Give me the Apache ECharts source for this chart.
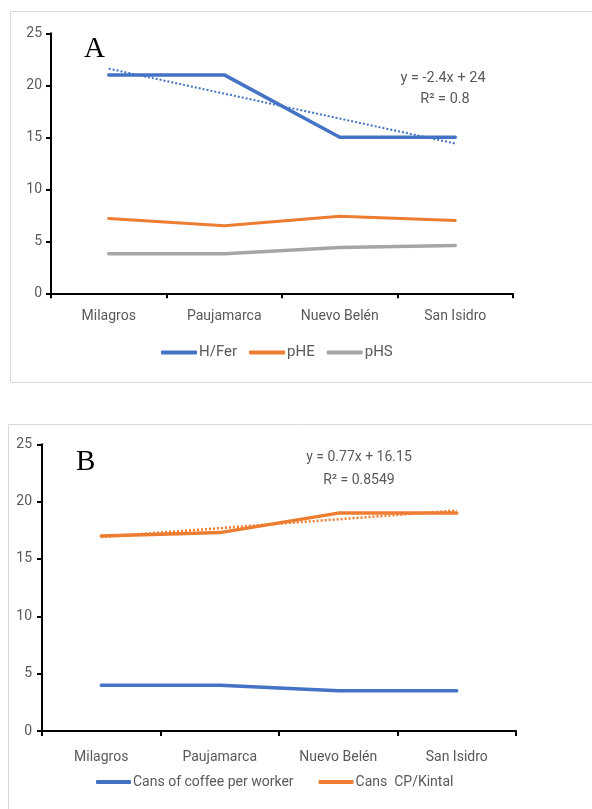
<!DOCTYPE html>
<html><head><meta charset="utf-8">
<script src="https://cdn.jsdelivr.net/npm/echarts@6/dist/echarts.min.js"></script>
<style>html,body{margin:0;padding:0;background:#fff}#c{width:592px;height:809px}</style>
</head><body><div id="c"></div>
<script>
const categories = ['Milagros', 'Paujamarca', 'Nuevo Belén', 'San Isidro'];
const yTicksMax = 25;
// Chart A
const hFer = [21, 21, 15, 15];
const pHE = [7.2, 6.5, 7.4, 7.0];
const pHS = [3.8, 3.8, 4.4, 4.6];
const trendA = [21.6, 19.2, 16.8, 14.4];
const eqA = ['y = -2.4x + 24', 'R² = 0.8'];
// Chart B
const cansWorker = [4.0, 4.0, 3.5, 3.5];
const cansKintal = [17.0, 17.3, 19.0, 19.0];
const trendB = [16.92, 17.69, 18.46, 19.23];
const eqB = ['y = 0.77x + 16.15', 'R² = 0.8549'];

const BLUE = '#4472C4', ORANGE = '#ED7D31', GRAY = '#A5A5A5', TXT = '#595959';
const FONT = 'Roboto';

function yAx(idx, margin) {
  return {
    type: 'value', gridIndex: idx, min: 0, max: yTicksMax, interval: 5,
    axisLine: { show: true, lineStyle: { color: '#000', width: 2 } },
    axisTick: { show: true, length: 5, lineStyle: { color: '#000', width: 2 } },
    splitLine: { show: false },
    axisLabel: { color: TXT, fontSize: 14, fontFamily: FONT, margin: margin }
  };
}
function xAx(idx, margin) {
  return {
    type: 'category', gridIndex: idx, data: categories, boundaryGap: true,
    axisLine: { show: true, lineStyle: { color: '#000', width: 2 } },
    axisTick: { show: true, length: 5, alignWithLabel: false, lineStyle: { color: '#000', width: 2 } },
    axisLabel: { color: TXT, fontSize: 14, fontFamily: FONT, margin: margin, interval: 0 }
  };
}
function line(name, data, color, width, idx, dotted) {
  return {
    name: name, type: 'line', data: data, xAxisIndex: idx, yAxisIndex: idx,
    showSymbol: false, symbol: 'none', silent: true, z: dotted ? 3 : 2,
    lineStyle: { color: color, width: width, type: dotted ? [2, 2] : 'solid', cap: dotted ? 'butt' : 'round' },
    itemStyle: { color: color }
  };
}

const chart = echarts.init(document.getElementById('c'), null, { renderer: 'canvas' });
chart.setOption({
  animation: false,
  backgroundColor: '#fff',
  grid: [
    { left: 51, top: 33.3, width: 462, height: 260 },
    { left: 42, top: 444.3, width: 474, height: 286.7 }
  ],
  xAxis: [xAx(0, 16), xAx(1, 19)],
  yAxis: [yAx(0, 9), yAx(1, 10)],
  legend: [
    { data: ['H/Fer', 'pHE', 'pHS'], left: 161, top: 345, padding: 0, icon: 'roundRect', itemWidth: 36, itemHeight: 4, itemGap: 12,
      textStyle: { color: TXT, fontSize: 15, fontFamily: FONT, padding: [0, 0, 0, -3] } },
    { data: ['Cans of coffee per worker', 'Cans  CP/Kintal'], left: 96, top: 775, padding: 0, icon: 'roundRect', itemWidth: 35, itemHeight: 4, itemGap: 25,
      textStyle: { color: TXT, fontSize: 14, fontFamily: FONT, padding: [0, 0, 0, -3] } }
  ],
  series: [
    line('H/Fer', hFer, BLUE, 3.5, 0),
    line('pHE', pHE, ORANGE, 3, 0),
    line('pHS', pHS, GRAY, 3.5, 0),
    line('trendA', trendA, BLUE, 2, 0, true),
    line('Cans of coffee per worker', cansWorker, BLUE, 3.5, 1),
    line('Cans  CP/Kintal', cansKintal, ORANGE, 3.5, 1),
    line('trendB', trendB, ORANGE, 2.5, 1, true)
  ],
  graphic: [
    { type: 'rect', shape: { x: 10.5, y: 11.5, width: 600, height: 371 }, style: { fill: 'none', stroke: '#d9d9d9', lineWidth: 1 }, z: -1 },
    { type: 'rect', shape: { x: 8.5, y: 424.5, width: 600, height: 400 }, style: { fill: 'none', stroke: '#d9d9d9', lineWidth: 1 }, z: -1 },
    { type: 'text', left: 84, top: 35, style: { text: 'A', font: '29px "Liberation Serif", serif', fill: '#000' } },
    { type: 'text', left: 76, top: 448, style: { text: 'B', font: '29px "Liberation Serif", serif', fill: '#000' } },
    { type: 'text', x: 443, y: 78, style: { text: eqA[0], font: '14.5px ' + FONT, fill: TXT, align: 'center', verticalAlign: 'middle' } },
    { type: 'text', x: 445, y: 99, style: { text: eqA[1], font: '14.5px ' + FONT, fill: TXT, align: 'center', verticalAlign: 'middle' } },
    { type: 'text', x: 359, y: 457, style: { text: eqB[0], font: '14px ' + FONT, fill: TXT, align: 'center', verticalAlign: 'middle' } },
    { type: 'text', x: 359, y: 480, style: { text: eqB[1], font: '14px ' + FONT, fill: TXT, align: 'center', verticalAlign: 'middle' } }
  ]
});
</script></body></html>
